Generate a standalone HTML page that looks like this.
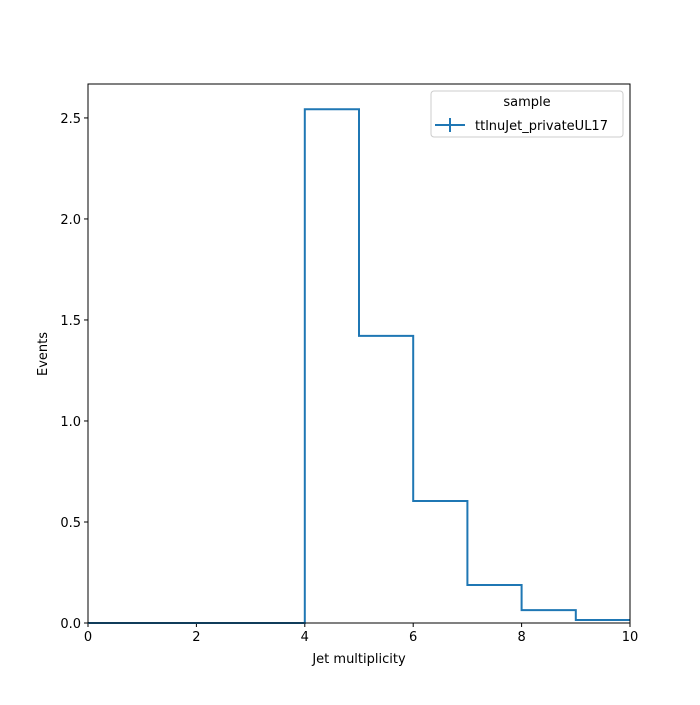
<!DOCTYPE html>
<html><head><meta charset="utf-8"><style>
body{margin:0;background:#fff}
svg text{font-family:"DejaVu Sans","Liberation Sans",sans-serif;font-size:13px;fill:#000}
</style></head><body>
<svg width="700" height="700" viewBox="0 0 700 700">
<rect width="700" height="700" fill="#fff"/>
<g id="ticks"></g>
<path id="hist" fill="none" stroke="#1f77b4" stroke-width="2"/>
<rect x="88" y="84" width="542" height="539" fill="none" stroke="#000" stroke-width="1"/>
<text x="359" y="663" text-anchor="middle">Jet multiplicity</text>
<text transform="translate(47,354) rotate(-90)" text-anchor="middle">Events</text>
<g>
<rect x="431" y="91" width="192" height="46" rx="3" fill="#fff" stroke="#ccc"/>
<text x="527" y="106" text-anchor="middle">sample</text>
<line x1="435" y1="125" x2="465" y2="125" stroke="#1f77b4" stroke-width="2"/>
<line x1="450" y1="118" x2="450" y2="132" stroke="#1f77b4" stroke-width="2"/>
<text x="475" y="130">ttlnuJet_privateUL17</text>
</g>
</svg>
<script>
const binEdges=[0,1,2,3,4,5,6,7,8,9,10];
const counts=[0,0,0,0,2.543,1.421,0.604,0.188,0.064,0.015];
const xTicks=[0,2,4,6,8,10];
const yTicks=[0.0,0.5,1.0,1.5,2.0,2.5];
const X0=88,X1=630,Y0=623,Y1=84,XMAX=10,YMAX=2.668;
const sx=v=>X0+(X1-X0)*v/XMAX;
const sy=v=>Y0-(Y0-Y1)*v/YMAX;
let d='M'+sx(binEdges[0])+','+sy(0);
counts.forEach((c,i)=>{d+=' L'+sx(binEdges[i])+','+sy(c)+' L'+sx(binEdges[i+1])+','+sy(c);});
document.getElementById('hist').setAttribute('d',d);
const ns='http://www.w3.org/2000/svg',g=document.getElementById('ticks');
xTicks.forEach(t=>{
 const l=document.createElementNS(ns,'line');
 
 
 l.setAttribute('x1',sx(t));l.setAttribute('x2',sx(t));l.setAttribute('y1',Y0);l.setAttribute('y2',Y0+4);l.setAttribute('stroke','#000');g.appendChild(l);
 const tx=document.createElementNS(ns,'text');
 
 
 tx.setAttribute('x',sx(t));tx.setAttribute('y',Y0+18);tx.setAttribute('text-anchor','middle');tx.textContent=t;g.appendChild(tx);
});
yTicks.forEach(t=>{
 const l=document.createElementNS(ns,'line');
 
 
 l.setAttribute('x1',X0-4);l.setAttribute('x2',X0);l.setAttribute('y1',sy(t));l.setAttribute('y2',sy(t));l.setAttribute('stroke','#000');g.appendChild(l);
 const tx=document.createElementNS(ns,'text');
 
 
 tx.setAttribute('x',X0-7);tx.setAttribute('y',sy(t)+5);tx.setAttribute('text-anchor','end');tx.textContent=t.toFixed(1);g.appendChild(tx);
});
</script>
</body></html>
